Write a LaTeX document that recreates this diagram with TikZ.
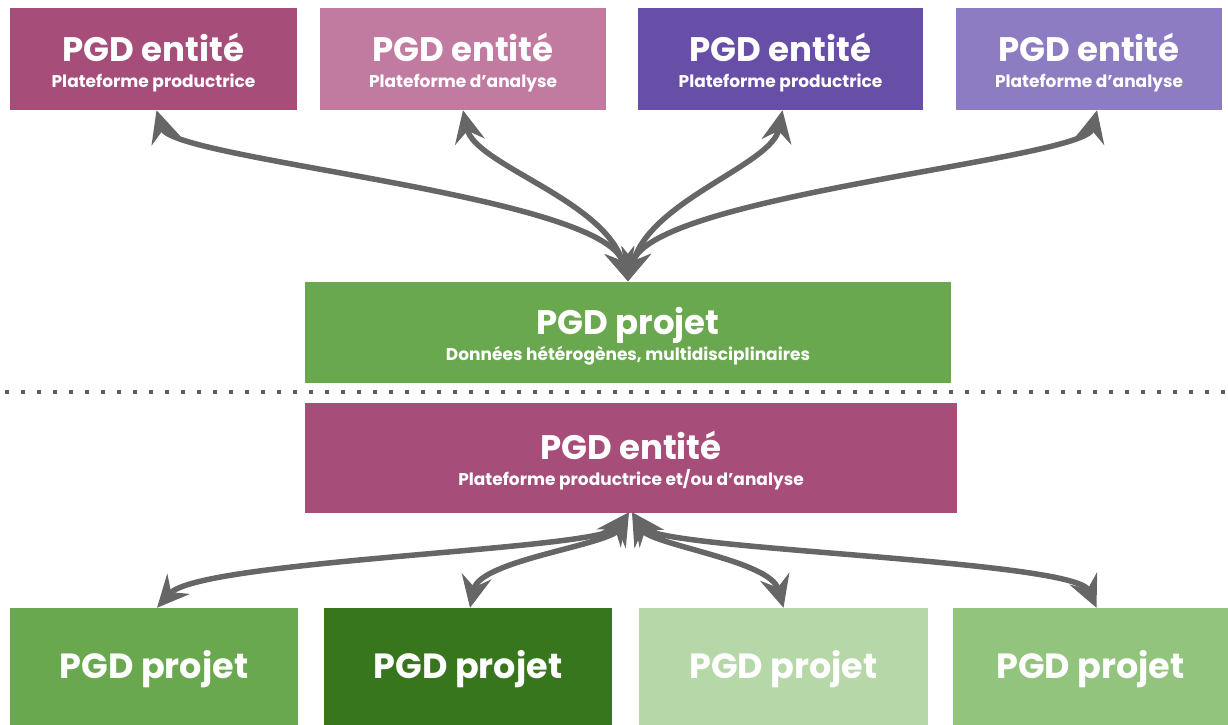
\documentclass[tikz,border=0pt]{standalone}
\usepackage{fontspec}
\setmainfont{Poppins}
\usetikzlibrary{arrows.meta}
\definecolor{mag}{HTML}{A64D79}
\definecolor{pink}{HTML}{C27BA0}
\definecolor{purp}{HTML}{674EA7}
\definecolor{lpurp}{HTML}{8E7CC3}
\definecolor{grn}{HTML}{6AA84F}
\definecolor{dgrn}{HTML}{38761D}
\definecolor{lgrn}{HTML}{B6D7A8}
\definecolor{mgrn}{HTML}{93C47D}
\definecolor{arrgray}{HTML}{666666}
\tikzset{
  box/.style={rectangle, inner sep=0pt, text=white, align=center, font=\bfseries\fontsize{17}{26}\selectfont},
  arr/.style={draw=arrgray, line width=5.5pt, {Stealth[length=32pt,width=30pt,inset=11pt]}-{Stealth[length=32pt,width=30pt,inset=11pt]}},
}
\newcommand{\ttl}[1]{{\fontsize{34}{26}\selectfont\rule{0pt}{35pt}#1}}
\newcommand{\btl}[1]{{\fontsize{35}{26}\selectfont\rule{0pt}{33pt}#1}}
\begin{document}
\begin{tikzpicture}[x=1pt,y=-1pt]
\useasboundingbox (0,0) rectangle (1228,725);
% top
\node[box, fill=mag, minimum width=287pt, minimum height=102pt] (t1) at (153.5,59) {\ttl{PGD entité}\\Plateforme productrice};
\node[box, fill=pink, minimum width=286pt, minimum height=102pt] (t2) at (463,59) {\ttl{PGD entité}\\Plateforme d'analyse};
\node[box, fill=purp, minimum width=285pt, minimum height=102pt] (t3) at (780.5,59) {\ttl{PGD entité}\\Plateforme productrice};
\node[box, fill=lpurp, minimum width=266pt, minimum height=102pt] (t4) at (1089,59) {\ttl{PGD entité}\\Plateforme d'analyse};
% middle
\node[box, fill=grn, minimum width=646pt, minimum height=101pt] (mid) at (628,332) {\ttl{PGD projet}\\Données hétérogènes, multidisciplinaires};
\node[box, fill=mag, minimum width=652pt, minimum height=110pt] (ent) at (631,457.5) {\ttl{PGD entité}\\Plateforme productrice et/ou d'analyse};
% bottom
\node[box, fill=grn, minimum width=288pt, minimum height=118pt] (b1) at (154,667) {\btl{PGD projet}};
\node[box, fill=dgrn, minimum width=288pt, minimum height=118pt] (b2) at (468,667) {\btl{PGD projet}};
\node[box, fill=lgrn, minimum width=289pt, minimum height=118pt] (b3) at (783.5,667) {\btl{PGD projet}};
\node[box, fill=mgrn, minimum width=275pt, minimum height=118pt] (b4) at (1090.5,667) {\btl{PGD projet}};
% dotted separator
\coordinate (dl) at (5,392);
\coordinate (dr) at (1228,392);
\draw[draw=arrgray!90!black, line width=4pt, dash pattern=on 4pt off 12pt] (dl) -- (dr);
% top arrows
\draw[arr] ([xshift=3pt]t1.south) .. controls (172,160) and (605,195) .. (mid.north);
\draw[arr] (t2.south) .. controls (475,165) and (605,200) .. (mid.north);
\draw[arr] ([xshift=2pt]t3.south) .. controls (772,165) and (650,200) .. (mid.north);
\draw[arr] ([xshift=8pt]t4.south) .. controls (1085,160) and (650,195) .. (mid.north);
% bottom arrows
\draw[arr] ([xshift=-3pt]ent.south) .. controls (600,550) and (200,560) .. ([xshift=3pt]b1.north);
\draw[arr] ([xshift=-2pt]ent.south) .. controls (610,545) and (480,560) .. ([xshift=2pt]b2.north);
\draw[arr] ([xshift=1pt]ent.south) .. controls (650,545) and (770,560) .. (b3.north);
\draw[arr] ([xshift=2pt]ent.south) .. controls (660,550) and (1075,560) .. ([xshift=6pt]b4.north);
\end{tikzpicture}
\end{document}
